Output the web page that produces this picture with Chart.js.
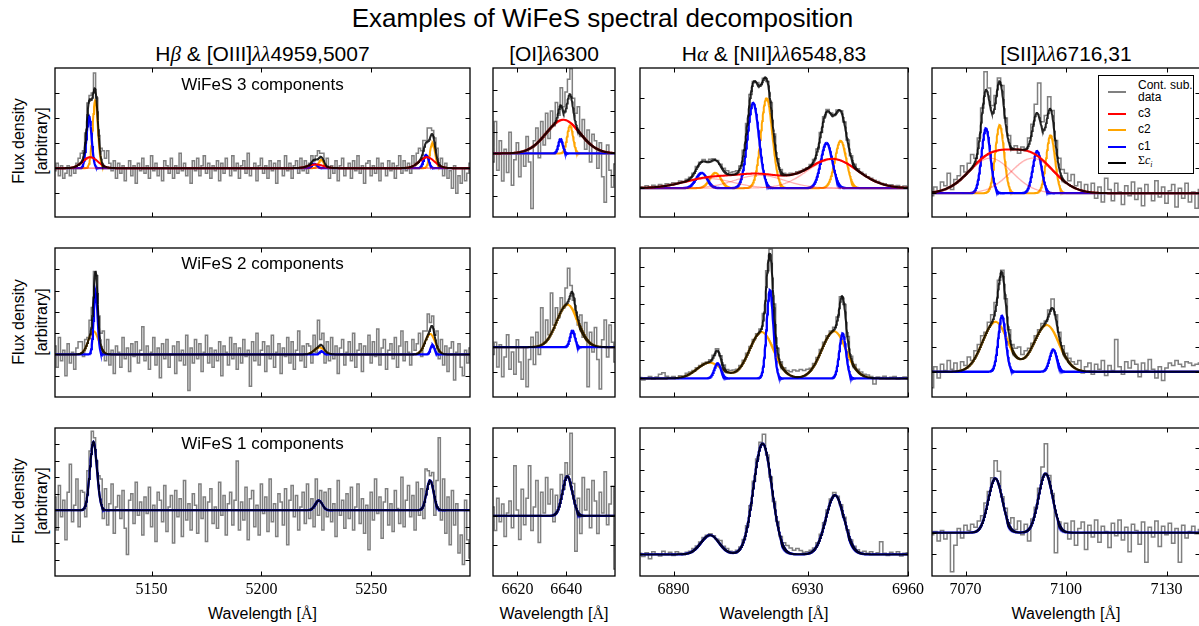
<!DOCTYPE html>
<html>
<head>
<meta charset="utf-8">
<script src="https://cdn.jsdelivr.net/npm/chart.js"></script>
<style>
  body { margin: 0; width: 1199px; height: 626px; overflow: hidden; position: relative; background: #fff;
         font-family: "Liberation Sans", Arial, sans-serif; color: #000; }
  canvas { position: absolute; }
  .t { position: absolute; white-space: nowrap; line-height: 1; transform: translate(-50%, -50%); }
  .m { font-family: "Liberation Serif", "DejaVu Serif", serif; font-style: italic; }
  .rm { font-family: "Liberation Serif", "DejaVu Serif", serif; }
  .ylab { font-size: 16px; line-height: 22.5px; text-align: center; transform: translate(-50%, -50%) rotate(-90deg); }
  #legend { position: absolute; border: 1px solid #000; background: #fff; z-index: 5; }
  #legend .sw { position: absolute; left: 9px; width: 18px; height: 2px; }
  #legend .lt { position: absolute; left: 39px; font-size: 12px; line-height: 11.7px; transform: translateY(-50%); }
</style>
</head>
<body>

<div class="t" style="left:602.5px;top:18.3px;font-size:26px">Examples of WiFeS spectral decomposition</div>

<div class="t" style="left:262.5px;top:54px;font-size:21px">H<span class="m">β</span> &amp; [OIII]<span class="m">λλ</span>4959,5007</div>
<div class="t" style="left:554px;top:54px;font-size:21px">[OI]<span class="m">λ</span>6300</div>
<div class="t" style="left:774px;top:54px;font-size:21px">H<span class="m">α</span> &amp; [NII]<span class="m">λλ</span>6548,83</div>
<div class="t" style="left:1066px;top:54px;font-size:21px">[SII]<span class="m">λλ</span>6716,31</div>

<div class="t ylab" style="left:30.3px;top:141px">Flux density<br>[arbitrary]</div>
<div class="t ylab" style="left:30.3px;top:321.7px">Flux density<br>[arbitrary]</div>
<div class="t ylab" style="left:30.3px;top:501px">Flux density<br>[arbitrary]</div>

<div class="t" style="left:262.5px;top:614px;font-size:16px">Wavelength [<span class="rm">Å</span>]</div>
<div class="t" style="left:554px;top:614px;font-size:16px">Wavelength [<span class="rm">Å</span>]</div>
<div class="t" style="left:774px;top:614px;font-size:16px">Wavelength [<span class="rm">Å</span>]</div>
<div class="t" style="left:1066px;top:614px;font-size:16px">Wavelength [<span class="rm">Å</span>]</div>

<div id="legend" style="left:1098px;top:75px;width:94px;height:97px">
  <div class="sw" style="top:15px;background:#808080"></div>
  <div class="lt" style="top:16px">Cont. sub.<br>data</div>
  <div class="sw" style="top:37.3px;background:#ff0000"></div>
  <div class="lt" style="top:38.3px">c3</div>
  <div class="sw" style="top:53.3px;background:#ffa500"></div>
  <div class="lt" style="top:54.3px">c2</div>
  <div class="sw" style="top:69.7px;background:#0000ff"></div>
  <div class="lt" style="top:70.7px">c1</div>
  <div class="sw" style="top:86.3px;background:#000"></div>
  <div class="lt rm" style="top:87.3px">Σ<i>c</i><sub style="font-size:8px"><i>i</i></sub></div>
</div>

<script>
// wavelength grid of the spectra: first bin [Å], 1 Å bins
const hbStart = 5106, oiStart = 6610, haStart = 6880, siiStart = 7060;
const binStep = 1;

// x ranges and tick labels of each column
const hbRange = [5106, 5295], oiRange = [6610, 6660], haRange = [6880, 6960], siiRange = [7060, 7140];
const hbTicks = [5150, 5200, 5250];
const oiTicks = [6620, 6640];
const haTicks = [6890, 6930, 6960];
const siiTicks = [7070, 7100, 7130];

// y ranges (arbitrary flux units, one unit per tick)
const hb3Y = [-1.95, 4.0], hb2Y = [-2.0, 5.0], hb1Y = [-4.0, 5.0];
const oi3Y = [-3.0, 4.03], oi2Y = [-2.02, 4.02], oi1Y = [-2.04, 2.98];
const ha3Y = [-0.96, 4.0], ha2Y = [-1.0, 7.02], ha1Y = [-1.02, 5.97];
const sii3Y = [-0.95, 5.0], sii2Y = [-1.02, 5.0], sii1Y = [-2.05, 4.95];

// continuum subtracted data, one value per bin
const hb3Flux = [-0.1,0.2,-0.3,0.1,-0.4,-0.2,0.1,-0.3,0.0,-0.2,
  0.2,0.4,0.6,0.7,1.4,2.6,2.9,3.0,3.8,2.8,1.3,0.8,0.7,0.4,0.7,0.2,
  -0.1,0.3,-0.4,0.2,-0.2,0.1,-0.5,0.0,
  0.3,-0.3,0.1,-0.6,0.2,-0.1,0.4,-0.2,0.1,-0.4,
  0.5,-0.1,0.2,-0.3,0.0,-0.5,0.3,0.1,-0.2,0.4,
  -0.4,0.1,-0.2,0.6,-0.1,0.2,-0.3,0.0,-0.6,0.3,
  -0.1,0.4,-0.3,0.1,0.5,-0.2,0.2,-0.4,0.1,-0.1,
  0.3,-0.5,0.2,-0.2,0.4,0.0,-0.3,0.5,-0.1,0.2,
  -0.4,0.1,0.3,-0.2,0.6,-0.3,0.0,0.2,-0.5,0.1,
  0.4,-0.2,0.1,-0.4,0.3,-0.1,0.2,-0.6,0.3,0.0,
  -0.3,0.5,-0.1,0.2,-0.4,0.1,0.3,-0.2,0.4,-0.1,
  0.3,-0.2,0.2,0.5,0.3,0.5,0.7,0.6,0.6,0.0,0.4,-0.4,0.1,
  -0.2,0.3,-0.5,0.1,0.4,-0.3,0.0,
  0.2,-0.4,0.3,-0.1,0.5,-0.2,0.1,-0.6,0.2,0.3,
  -0.3,0.1,-0.2,0.4,-0.5,0.2,0.0,-0.3,0.3,-0.1,
  0.2,-0.4,0.1,0.5,-0.2,0.3,-0.1,
  0.2,-0.2,0.5,0.2,0.6,0.8,0.7,1.1,1.1,1.6,1.6,1.5,1.2,0.8,0.1,0.4,-0.3,0.2,
  -0.4,-0.1,-0.8,0.1,-1.0,-0.3,-0.6,0.0,-0.5,-0.2,0.2];
const hb2Flux = [0.4,-0.6,0.8,-0.3,0.2,-1.0,0.5,-0.4,0.1,-0.7,0.3,0.6,
  0.6,-0.1,0.7,0.8,1.6,2.2,3.9,3.7,1.8,1.0,1.1,-0.3,
  0.7,-0.5,0.2,-0.9,0.4,0.1,-0.6,0.8,-0.2,0.3,
  -0.8,0.5,-0.1,0.6,-0.4,0.2,1.3,-0.3,0.4,-0.7,
  0.1,0.8,-0.5,0.3,-1.1,0.5,-0.2,0.7,-0.6,0.0,
  0.4,-0.9,0.6,-0.3,0.2,-0.5,0.9,-1.7,0.3,-0.4,
  0.7,-0.2,0.5,-0.8,0.1,0.9,-0.4,0.3,-0.6,0.2,
  -0.3,0.6,-1.0,0.4,0.1,-0.5,0.8,-0.2,0.5,-0.7,
  0.3,-0.4,0.7,-0.1,0.2,-1.5,0.6,-0.3,1.0,-0.5,
  0.2,0.6,-0.8,0.4,-0.2,0.9,-0.6,0.1,0.5,-0.9,
  0.3,-0.1,0.8,-0.4,0.6,-0.7,0.2,1.1,-0.3,0.4,
  -0.6,0.5,
  0.4,-0.4,0.9,0.1,1.6,0.7,1.0,-0.4,0.6,-0.3,
  0.8,-0.2,0.4,-0.9,0.3,0.7,-0.5,0.1,
  0.6,-0.3,1.0,-0.6,0.2,0.5,-0.8,0.4,0.0,0.9,
  -0.4,0.6,-0.1,1.2,-0.5,0.3,0.7,-0.7,0.2,0.5,
  -0.2,0.8,-0.6,0.4,1.1,-0.3,0.6,0.1,-0.5,0.7,
  0.2,
  0.5,1.0,-0.1,1.1,1.1,1.9,1.5,1.8,0.9,1.1,-0.2,0.7,-0.5,
  0.4,-0.8,0.3,0.6,-1.2,0.1,0.5,-0.6,-1.0,0.2,-0.4,0.3];
const hb1Flux = [0.8,-1.2,1.5,-0.4,0.6,-1.8,1.1,2.8,-0.7,0.3,1.9,-1.0,1.2,
  1.1,-0.4,2.4,3.6,4.8,4.4,3.0,2.1,1.9,-0.5,
  1.3,-0.9,0.4,1.6,-1.4,0.2,0.9,-0.5,1.2,-1.1,
  -2.7,0.6,1.0,-0.8,1.7,-0.3,0.5,-1.5,0.8,-0.2,
  1.4,-1.0,0.3,-1.9,1.1,0.6,-0.7,1.5,-1.3,0.2,
  0.9,-2.0,1.2,-0.4,0.7,-1.6,1.8,-0.6,0.4,-1.2,
  1.0,0.3,-1.4,1.6,-0.5,0.8,-1.9,0.5,1.3,-0.8,
  0.2,-1.1,1.7,-0.3,0.9,-1.5,0.4,1.1,-0.9,0.6,
  3.0,-1.2,0.5,-0.6,1.4,-1.8,0.7,1.2,-1.0,0.3,
  -1.5,1.6,-0.2,0.8,-1.3,1.9,-0.7,0.4,-1.6,1.0,
  0.5,-0.9,1.3,-2.1,0.6,1.5,-0.4,0.9,-1.2,0.2,
  1.1,-0.8,1.6,-0.5,
  0.7,-1.0,1.9,-0.3,1.2,-1.2,1.1,-0.4,
  1.3,-0.7,0.4,-1.6,1.8,-0.3,0.6,-1.1,1.0,
  -0.5,1.4,-1.2,0.2,1.6,-0.8,0.7,-1.4,0.3,-2.4,
  1.1,-0.6,1.9,-0.2,0.8,-1.7,0.5,1.3,-0.9,0.4,
  -1.3,1.2,0.1,-0.8,2.0,-1.0,0.6,1.5,-0.4,0.9,
  -1.2,1.7,-0.3,
  1.3,-0.5,2.5,2.4,2.1,2.3,-0.3,1.8,4.4,
  -0.6,1.9,-1.4,0.8,-2.1,1.2,-0.9,0.4,-2.6,-1.5,-3.3,0.6,-1.8,-2.9];

const oi3Flux = [-0.4,1.5,-0.8,0.6,-1.3,0.2,-0.9,1.0,-1.5,-0.3,
  0.5,-1.1,0.1,-0.6,0.8,-0.4,-2.6,0.6,1.2,-0.2,
  1.5,0.4,1.9,0.7,2.0,1.3,2.4,1.8,3.1,2.2,
  2.9,3.5,4.0,2.6,1.9,2.2,0.8,1.6,0.2,1.1,
  -0.4,0.9,0.6,-0.7,0.5,-1.1,-2.3,0.4,-0.8,-1.6,-0.5];
const oi2Flux = [-0.3,0.2,-0.8,0.1,-1.2,-0.4,0.5,-0.9,-0.2,-1.1,
  0.3,-0.6,-1.3,0.0,-1.6,-0.5,0.4,-0.7,0.6,-0.3,
  1.6,0.2,1.1,0.5,2.2,0.9,1.6,1.2,2.0,1.6,
  2.4,3.2,2.5,1.9,1.4,0.9,1.3,0.4,1.0,-1.6,
  0.6,-0.2,0.8,-0.5,-1.7,0.3,1.1,-0.4,0.9,0.2,-0.6];
const oi1Flux = [0.3,-0.5,0.6,-0.2,0.4,-0.7,0.1,0.5,-0.4,1.7,
  0.2,-0.8,0.9,-0.3,0.6,1.7,-0.5,0.3,1.2,-0.9,
  0.8,0.1,1.3,0.4,0.9,-0.2,0.7,0.3,1.4,0.9,
  1.8,1.4,2.8,1.1,-1.2,0.6,-0.6,1.3,0.2,0.9,
  -0.4,1.2,0.5,-0.6,0.8,0.1,1.5,-0.3,0.4,1.0,-1.8];

const ha3Flux = [0.05,0.02,0.08,0.04,0.10,0.06,0.12,0.09,0.15,0.13,
  0.18,0.16,0.24,0.22,0.30,0.36,0.50,0.72,0.86,0.95,
  0.90,0.96,0.98,0.92,0.80,0.66,0.58,0.52,0.55,0.58,
  0.74,1.26,2.15,3.12,3.55,3.52,3.45,3.66,3.55,2.85,
  1.80,0.98,0.62,0.50,0.46,0.50,0.49,0.55,0.57,0.63,
  0.68,0.79,0.95,1.30,1.85,2.38,2.62,2.50,2.46,2.60,
  2.58,2.20,1.60,1.08,0.80,0.65,0.53,0.46,0.38,0.33,
  0.26,0.22,0.16,0.15,0.10,0.11,0.06,0.09,0.04,0.07,0.03];
const ha2Flux = [0.05,-0.08,0.02,0.10,-0.05,0.08,0.22,0.30,0.12,0.05,
  0.10,0.00,0.15,0.12,0.28,0.35,0.42,0.58,0.70,0.82,
  0.88,1.00,1.25,1.60,1.22,0.72,0.48,0.42,0.46,0.50,
  0.70,0.98,1.35,1.72,2.10,2.40,2.66,3.50,5.80,6.95,
  4.00,1.62,0.90,0.58,0.42,0.36,0.45,0.40,0.48,0.42,
  0.50,0.55,0.80,1.12,1.55,1.95,2.30,2.55,2.75,3.30,
  4.40,3.98,2.25,1.20,0.75,0.50,0.35,0.22,0.18,0.10,
  -0.30,0.08,0.05,0.12,-0.02,0.06,0.10,-0.05,0.03,0.08,-0.03];
const ha1Flux = [0.05,-0.10,0.08,-0.20,0.12,0.02,-0.08,0.15,0.00,0.10,
  -0.05,0.12,0.05,-0.02,0.10,0.15,0.28,0.40,0.58,0.80,
  0.90,0.98,0.88,0.72,0.66,0.38,0.28,0.15,0.12,0.20,
  0.35,0.70,1.35,2.30,3.45,4.50,5.30,5.67,4.70,3.65,
  2.50,1.55,0.85,0.55,0.42,0.30,0.20,0.28,0.18,0.10,
  0.12,0.20,0.30,0.55,0.95,1.50,2.10,2.62,2.92,2.75,
  2.35,1.75,1.15,0.68,0.38,0.22,0.10,0.15,0.05,0.12,
  0.02,0.08,0.60,0.05,-0.05,0.10,0.02,0.12,-0.08,0.05,0.08];

const sii3Flux = [-0.10,0.25,0.10,0.45,0.30,0.80,0.15,0.55,0.70,1.10,
  0.85,1.20,1.55,1.40,2.20,3.40,4.85,4.20,3.50,3.90,
  4.60,4.30,3.00,2.30,1.75,1.90,1.60,1.85,1.70,2.20,
  2.75,3.55,4.40,2.85,3.10,3.85,3.30,2.10,1.40,0.95,
  0.80,0.50,0.75,0.30,0.45,0.10,0.35,0.05,0.40,-0.20,
  0.25,-0.35,0.60,0.15,-0.30,0.40,0.05,-0.45,0.30,-0.10,
  0.45,-0.25,0.20,-0.50,0.35,0.00,-0.30,0.50,-0.15,0.25,
  -0.40,0.10,0.35,-0.55,0.20,-0.20,0.40,-0.35,0.05,-0.60,0.15];
const sii2Flux = [-0.65,0.20,-0.25,0.30,0.05,0.45,0.10,0.35,0.00,0.40,
  0.25,0.60,0.45,0.85,1.10,1.45,1.60,2.00,2.30,2.80,
  3.70,4.10,2.95,1.70,1.10,0.95,1.00,0.70,0.85,0.95,
  1.15,1.45,1.70,1.95,2.05,2.50,2.94,2.30,1.60,1.05,
  0.75,0.55,0.40,0.30,0.45,-0.05,0.20,0.35,-0.10,0.30,
  0.10,0.45,-0.15,0.25,0.05,1.30,0.20,-0.10,0.40,0.15,
  0.45,0.30,-0.20,0.35,0.05,0.50,0.10,-0.25,0.20,-0.35,
  0.15,0.35,0.25,0.45,0.30,0.20,0.40,0.35,0.25,0.30,0.35];
const sii1Flux = [-0.10,0.05,-0.40,0.10,-0.30,0.00,-1.85,-0.60,0.20,-0.25,
  0.35,0.10,0.40,0.25,0.55,0.80,1.40,1.95,2.60,3.40,
  2.90,1.70,1.15,0.45,0.70,0.15,0.55,-0.10,0.40,-0.40,
  0.65,1.20,2.10,3.10,4.20,2.70,1.85,-0.95,0.50,0.10,
  0.45,-0.30,0.55,-0.60,0.20,0.50,-0.80,0.35,-0.20,0.60,
  -0.45,0.30,0.05,-0.70,0.45,-0.15,0.60,-0.35,0.25,-0.90,
  0.40,0.10,-0.55,0.50,-1.40,0.25,-0.20,0.55,-0.65,0.30,
  -0.10,0.45,-0.50,0.20,-1.40,0.35,-0.25,0.05,0.30,-0.05,0.15];

// fitted gaussian components: [centre Å, sigma Å, peak height]
const hb3C1 = [[5121.5, 1.15, 2.07], [5224.1, 1.15, 0.18], [5275.0, 1.15, 0.53]];
const hb3C2 = [[5124.3, 1.2, 2.7], [5227.2, 1.2, 0.33], [5277.9, 1.2, 1.0]];
const hb3C3 = [[5122.0, 3.5, 0.44], [5224.7, 3.5, 0.15], [5275.3, 3.5, 0.44]];
const hb2C1 = [[5124.5, 0.9, 2.92], [5227.4, 0.9, 0.15], [5277.9, 0.9, 0.45]];
const hb2C2 = [[5123.5, 2.3, 1.1], [5226.3, 2.3, 0.33], [5276.8, 2.3, 0.97]];
const hb1C1 = [[5123.5, 1.6, 4.16], [5226.1, 1.6, 0.6], [5276.8, 1.6, 1.81]];

const oi3C1 = [[6637.7, 0.9, 0.69]];
const oi3C2 = [[6641.6, 1.2, 1.32]];
const oi3C3 = [[6638.8, 7.0, 1.59]];
const oi2C1 = [[6642.6, 1.0, 0.68]];
const oi2C2 = [[6640.5, 4.4, 1.73]];
const oi1C1 = [[6640.5, 2.0, 1.35]];

const ha3C1 = [[6898.4, 1.7, 0.51], [6913.8, 1.7, 2.84], [6935.7, 1.7, 1.51]];
const ha3C2 = [[6902.5, 1.7, 0.51], [6917.8, 1.7, 3.0], [6939.9, 1.7, 1.58]];
const ha3C3 = [[6900.3, 7.5, 0.32], [6915.7, 7.5, 0.43], [6937.5, 7.5, 0.97]];
const ha2C1 = [[6903.2, 1.0, 0.81], [6918.8, 1.0, 4.75], [6940.5, 1.0, 2.42]];
const ha2C2 = [[6900.7, 3.7, 0.85], [6916.3, 3.7, 2.5], [6937.9, 3.7, 2.54]];
const ha1C1 = [[6900.9, 2.75, 0.91], [6916.6, 2.75, 5.24], [6938.2, 2.75, 2.8]];

const sii3C1 = [[7076.1, 1.3, 2.59], [7091.4, 1.3, 1.68]];
const sii3C2 = [[7080.2, 1.3, 2.72], [7095.4, 1.3, 2.32]];
const sii3C3 = [[7077.4, 6.5, 1.4], [7090.0, 6.5, 1.4]];
const sii2C1 = [[7080.9, 1.1, 2.26], [7096.2, 1.1, 0.9]];
const sii2C2 = [[7078.9, 3.8, 2.02], [7094.2, 3.8, 1.89]];
const sii1C1 = [[7078.9, 2.1, 2.57], [7093.9, 2.1, 2.8]];

// layout: plot boxes in page pixels
const colBox = [[55, 470], [493, 615], [640, 908], [932, 1200]];
const rowBox = [[68, 217], [248, 397], [428, 576]];
const curveStep = [0.25, 0.1, 0.1, 0.1];
// c1 blue, c2 orange, c3 red; draw order (lower = on top)
const compColor = ['#0000ff', '#ffa500', '#ff0000'];
const compOrder = [2, 3, 1];

const columns = [
  { start: hbStart, range: hbRange, ticks: hbTicks, rows: [
    [hb3Flux, hb3Y, [hb3C1, hb3C2, hb3C3]], [hb2Flux, hb2Y, [hb2C1, hb2C2]], [hb1Flux, hb1Y, [hb1C1]]] },
  { start: oiStart, range: oiRange, ticks: oiTicks, rows: [
    [oi3Flux, oi3Y, [oi3C1, oi3C2, oi3C3]], [oi2Flux, oi2Y, [oi2C1, oi2C2]], [oi1Flux, oi1Y, [oi1C1]]] },
  { start: haStart, range: haRange, ticks: haTicks, rows: [
    [ha3Flux, ha3Y, [ha3C1, ha3C2, ha3C3]], [ha2Flux, ha2Y, [ha2C1, ha2C2]], [ha1Flux, ha1Y, [ha1C1]]] },
  { start: siiStart, range: siiRange, ticks: siiTicks, rows: [
    [sii3Flux, sii3Y, [sii3C1, sii3C2, sii3C3]], [sii2Flux, sii2Y, [sii2C1, sii2C2]], [sii1Flux, sii1Y, [sii1C1]]] }
];

function gauss(lines, x) {
  let s = 0;
  for (const [c, w, h] of lines) s += h * Math.exp(-0.5 * ((x - c) / w) ** 2);
  return s;
}

// frame with inward ticks on all four sides, like the matplotlib original
const framePlugin = {
  id: 'frame',
  afterDatasetsDraw(chart, args, o) {
    const { ctx, chartArea: a } = chart;
    const xs = chart.scales.x, ys = chart.scales.y;
    ctx.save();
    ctx.strokeStyle = '#000';
    ctx.lineWidth = 1;
    ctx.beginPath();
    for (const v of o.xTicks) {
      const px = Math.round(xs.getPixelForValue(v)) + 0.5;
      ctx.moveTo(px, a.top); ctx.lineTo(px, a.top + 4.5);
      ctx.moveTo(px, a.bottom); ctx.lineTo(px, a.bottom - 4.5);
    }
    for (const v of o.yTicks) {
      const py = Math.round(ys.getPixelForValue(v)) + 0.5;
      ctx.moveTo(a.left, py); ctx.lineTo(a.left + 4.5, py);
      ctx.moveTo(a.right, py); ctx.lineTo(a.right - 4.5, py);
    }
    ctx.stroke();
    ctx.lineWidth = 1.3;
    ctx.strokeRect(a.left, a.top, a.right - a.left, a.bottom - a.top);
    if (o.labels) {
      ctx.fillStyle = '#000';
      ctx.font = '16px "Liberation Serif", "DejaVu Serif", serif';
      ctx.textAlign = 'center';
      ctx.textBaseline = 'middle';
      for (const v of o.xTicks) ctx.fillText(String(v), xs.getPixelForValue(v), a.bottom + 14);
    }
    ctx.restore();
  }
};

function lineSet(data, color, width, order, extra) {
  return Object.assign({ data, borderColor: color, borderWidth: width, pointRadius: 0,
    tension: 0, fill: false, order }, extra || {});
}

columns.forEach((col, ci) => {
  col.rows.forEach(([flux, yr, comps], ri) => {
    const [x0, x1] = colBox[ci], [y0, y1] = rowBox[ri];
    const padL = 22, padR = 22, padT = 4, padB = ri === 2 ? 30 : 4;
    const cv = document.createElement('canvas');
    cv.width = x1 - x0 + padL + padR;
    cv.height = y1 - y0 + padT + padB;
    cv.style.left = (x0 - padL) + 'px';
    cv.style.top = (y0 - padT) + 'px';
    document.body.appendChild(cv);

    const spec = flux.map((v, i) => ({ x: col.start + i * binStep, y: v }));
    const grid = [];
    for (let x = col.range[0]; x <= col.range[1] + 1e-9; x += curveStep[ci]) grid.push(x);

    const datasets = [lineSet(spec, '#808080', 1.5, 10, { stepped: 'middle' })];
    comps.forEach((lines, k) => {
      datasets.push(lineSet(grid.map(x => ({ x, y: gauss(lines, x) })), compColor[k], k === 0 ? 2.3 : 2, compOrder[k]));
      if (k === 2) {
        // faint single lines of the broad component, above the narrow ones
        lines.forEach(l => datasets.push(lineSet(grid.map(x => ({ x, y: gauss([l], x) })),
          'rgba(255,0,0,0.3)', 1.2, 1.5)));
      }
    });
    const all = comps.flat();
    datasets.push(lineSet(grid.map(x => ({ x, y: gauss(all, x) })), 'rgba(0,0,0,0.86)', 2, 0));

    const yTicks = [];
    for (let v = Math.ceil(yr[0] + 0.05); v <= yr[1] - 0.05; v++) yTicks.push(v);

    new Chart(cv, {
      type: 'line',
      data: { datasets },
      options: {
        responsive: false,
        animation: false,
        events: [],
        parsing: false,
        normalized: true,
        layout: { autoPadding: false, padding: { left: padL, right: padR, top: padT, bottom: padB } },
        scales: {
          x: { type: 'linear', min: col.range[0], max: col.range[1], display: false },
          y: { type: 'linear', min: yr[0], max: yr[1], display: false }
        },
        plugins: {
          legend: { display: false },
          tooltip: { enabled: false },
          frame: { xTicks: col.ticks, yTicks, labels: ri === 2 }
        }
      },
      plugins: [framePlugin]
    });
  });
});
</script>

<div class="t" style="left:262.5px;top:83.7px;font-size:17px;z-index:4">WiFeS 3 components</div>
<div class="t" style="left:262.5px;top:262.5px;font-size:17px;z-index:4">WiFeS 2 components</div>
<div class="t" style="left:262.5px;top:442.5px;font-size:17px;z-index:4">WiFeS 1 components</div>
</body>
</html>
